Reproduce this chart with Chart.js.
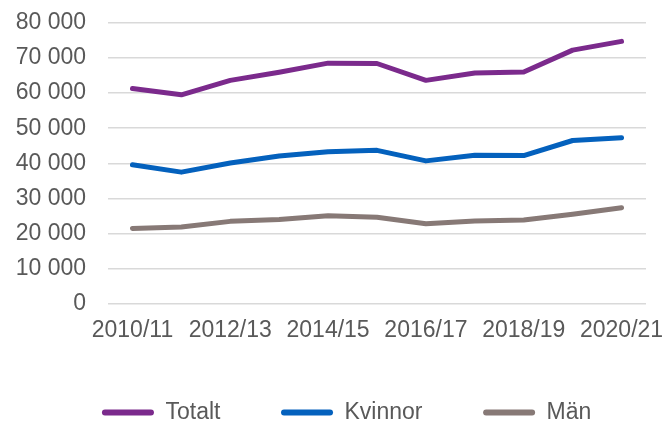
<!DOCTYPE html>
<html>
<head>
<meta charset="utf-8">
<script src="https://cdn.jsdelivr.net/npm/chart.js@4"></script>
<style>
  html, body { margin: 0; padding: 0; background: #ffffff; overflow: hidden; }
  #wrap { width: 665px; height: 421px; }
  canvas { display: block; }
</style>
</head>
<body>
<div id="wrap"><canvas id="c" width="665" height="421"></canvas></div>
<script>
const categories = ["2010/11","2011/12","2012/13","2013/14","2014/15","2015/16","2016/17","2017/18","2018/19","2019/20","2020/21"];
const totalt  = [61300, 59500, 63600, 65900, 68500, 68400, 63600, 65700, 66000, 72200, 74700];
const kvinnor = [39600, 37500, 40100, 42100, 43300, 43700, 40700, 42300, 42200, 46500, 47300];
const man     = [21500, 21900, 23500, 24000, 25100, 24700, 22800, 23600, 23900, 25500, 27400];
const seriesNames = ["Totalt", "Kvinnor", "Män"];
const colors = ["#7B2A8C", "#0461BD", "#877976"];

const textColor = "#595959";
const fontFamily = "'Liberation Sans', Arial, sans-serif";

const legendShift = {
  id: 'legendShift',
  beforeDraw(chart) {
    const l = chart.legend;
    if (!l) return;
    l.left = 28.3; l.right = 665; l.width = 665 - 28.3;
    l.top = 340.4; l.bottom = 421; l.height = 421 - 340.4;
  }
};

function mkDataset(label, data, color) {
  return {
    label: label, data: data, borderColor: color, backgroundColor: color,
    borderWidth: 5, pointRadius: 0, pointHoverRadius: 0, tension: 0,
    borderCapStyle: 'round', borderJoinStyle: 'round', fill: false
  };
}

new Chart(document.getElementById('c'), {
  type: 'line',
  data: {
    labels: categories,
    datasets: [
      mkDataset(seriesNames[0], totalt, colors[0]),
      mkDataset(seriesNames[1], kvinnor, colors[1]),
      mkDataset(seriesNames[2], man, colors[2])
    ]
  },
  options: {
    responsive: false, animation: false, devicePixelRatio: 1,
    layout: { padding: { left: 16, right: 19, top: 22.7, bottom: 12 } },
    plugins: {
      tooltip: { enabled: false },
      legend: {
        position: 'bottom', maxHeight: 60,
        labels: {
          color: textColor, font: { family: fontFamily, size: 23 },
          boxWidth: 52, boxHeight: 6, padding: 60.6,
          useBorderRadius: true, borderRadius: 3,
          generateLabels(chart) {
            const items = Chart.defaults.plugins.legend.labels.generateLabels(chart);
            items.forEach((it, i) => {
              it.lineWidth = 0; it.fillStyle = colors[i]; it.strokeStyle = colors[i]; it.borderRadius = 3;
            });
            return items;
          }
        }
      }
    },
    scales: {
      x: {
        offset: true, grid: { display: false, drawTicks: false }, border: { display: false },
        afterFit(s) { s.height = 45; s.paddingLeft = 0; s.paddingRight = 0; },
        ticks: { color: textColor, font: { family: fontFamily, size: 23 }, padding: 13, autoSkip: false, maxRotation: 0,
          callback: function(val, idx) { return idx % 2 === 0 ? categories[idx] : ''; } }
      },
      y: {
        min: 0, max: 80000,
        grid: { color: '#D9D9D9', lineWidth: 1.5, drawTicks: false }, border: { display: false },
        afterFit(s) { s.width = 92; s.paddingTop = 0; s.paddingBottom = 0; },
        ticks: { stepSize: 10000, color: textColor, font: { family: fontFamily, size: 23 }, padding: 22,
          callback: function(v) { return String(v).replace(/\B(?=(\d{3})+(?!\d))/g, ' '); } }
      }
    }
  },
  plugins: [legendShift]
});
</script>
</body>
</html>
